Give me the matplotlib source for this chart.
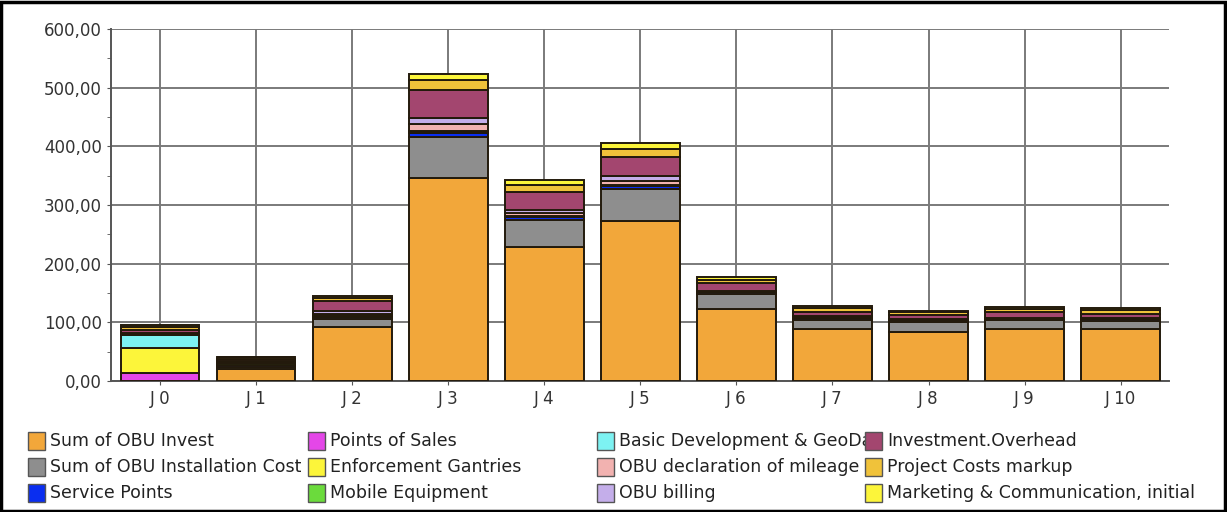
import numpy as np
import matplotlib
matplotlib.use('Agg')
import matplotlib.pyplot as plt
from matplotlib.patches import Rectangle
from matplotlib.ticker import MultipleLocator, FuncFormatter

categories = ['J 0', 'J 1', 'J 2', 'J 3', 'J 4', 'J 5', 'J 6', 'J 7', 'J 8', 'J 9', 'J 10']

obu_invest = [0, 21, 92, 347, 228, 272, 123, 88, 84, 88, 88]
obu_install = [0, 3, 13, 69, 46, 56, 26, 16, 17, 16, 15]
service_points = [0, 3, 4, 7, 5, 4, 2, 4, 2, 2, 2]
points_of_sales = [14, 1, 1, 2, 1, 1, 0, 0, 0, 0, 0]
enforcement = [42, 0, 0, 0, 0, 0, 0, 0, 0, 0, 0]
mobile_equipment = [0, 2, 2, 2, 1, 1, 0, 0, 0, 0, 0]
basic_dev = [22, 0, 0, 0, 0, 0, 0, 0, 0, 0, 0]
obu_declaration = [2, 2, 3, 11, 5, 7, 1, 1, 1, 1, 1]
obu_billing = [1, 2, 4, 10, 6, 8, 1, 1, 1, 1, 1]
overhead = [6, 4, 18, 48, 30, 33, 14, 8, 8, 9, 8]
markup = [5, 2, 5, 18, 12, 14, 6, 6, 4, 6, 6]
marketing = [3, 1, 3, 10, 8, 10, 4, 4, 3, 3, 3]

series = [
    ('Sum of OBU Invest', obu_invest, '#F2A73A'),
    ('Sum of OBU Installation Cost', obu_install, '#8E8E8E'),
    ('Service Points', service_points, '#0A2EF0'),
    ('Points of Sales', points_of_sales, '#E447E8'),
    ('Enforcement Gantries', enforcement, '#FCF53A'),
    ('Mobile Equipment', mobile_equipment, '#6BDB3C'),
    ('Basic Development & GeoDa', basic_dev, '#7DF2F2'),
    ('OBU declaration of mileage', obu_declaration, '#F2B2B0'),
    ('OBU billing', obu_billing, '#C4AEEA'),
    ('Investment.Overhead', overhead, '#A3466F'),
    ('Project Costs markup', markup, '#F0C23A'),
    ('Marketing & Communication, initial', marketing, '#FCF53A'),
]

fig = plt.figure(figsize=(12.27, 5.12), dpi=100)
ax = fig.add_axes([0.0905, 0.256, 0.862, 0.687])

x = np.arange(len(categories))
bottom = np.zeros(len(categories))
for name, vals, col in series:
    vals = np.array(vals, dtype=float)
    ax.bar(x, vals, 0.82, bottom=bottom, color=col, edgecolor='#231a0c',
           linewidth=1.4, zorder=3)
    bottom += vals

ax.set_xlim(-0.51, 10.5)
ax.set_ylim(0, 600)
ax.yaxis.set_major_locator(MultipleLocator(100))
ax.yaxis.set_minor_locator(MultipleLocator(50))
ax.yaxis.set_major_formatter(FuncFormatter(lambda v, p: ('%.2f' % v).replace('.', ',')))
ax.set_xticks(x)
ax.set_xticklabels(categories)
ax.grid(True, which='major', color='#7a7a7a', linewidth=1.4, zorder=0)
ax.set_axisbelow(True)
for s in ['top', 'right']:
    ax.spines[s].set_visible(False)
for s in ['left', 'bottom']:
    ax.spines[s].set_color('#555555')
    ax.spines[s].set_linewidth(1.4)
ax.tick_params(axis='both', which='major', length=3, color='#555555',
               labelsize=12, labelcolor='#333333')
ax.tick_params(axis='y', which='minor', length=3, color='#555555')

# legend drawn as a grid of patches and labels
col_x = [28, 308, 597, 865]
row_y = [441, 467, 493]
for i, (name, vals, col) in enumerate(series):
    c, r = divmod(i, 3)
    px, py = col_x[c], row_y[r]
    fig.add_artist(Rectangle((px / 1227, 1 - (py + 9) / 512), 17 / 1227, 18 / 512,
                             transform=fig.transFigure, facecolor=col,
                             edgecolor='#555555', linewidth=1.0, zorder=5))
    fig.text((px + 22) / 1227, 1 - py / 512, name, fontsize=12.5,
             color='#222222', va='center', ha='left', zorder=4)

fig.add_artist(Rectangle((0.001, 0.002), 0.997, 0.995, transform=fig.transFigure,
                         fill=False, edgecolor='black', linewidth=2.5))

fig.savefig('out.png', dpi=100)
